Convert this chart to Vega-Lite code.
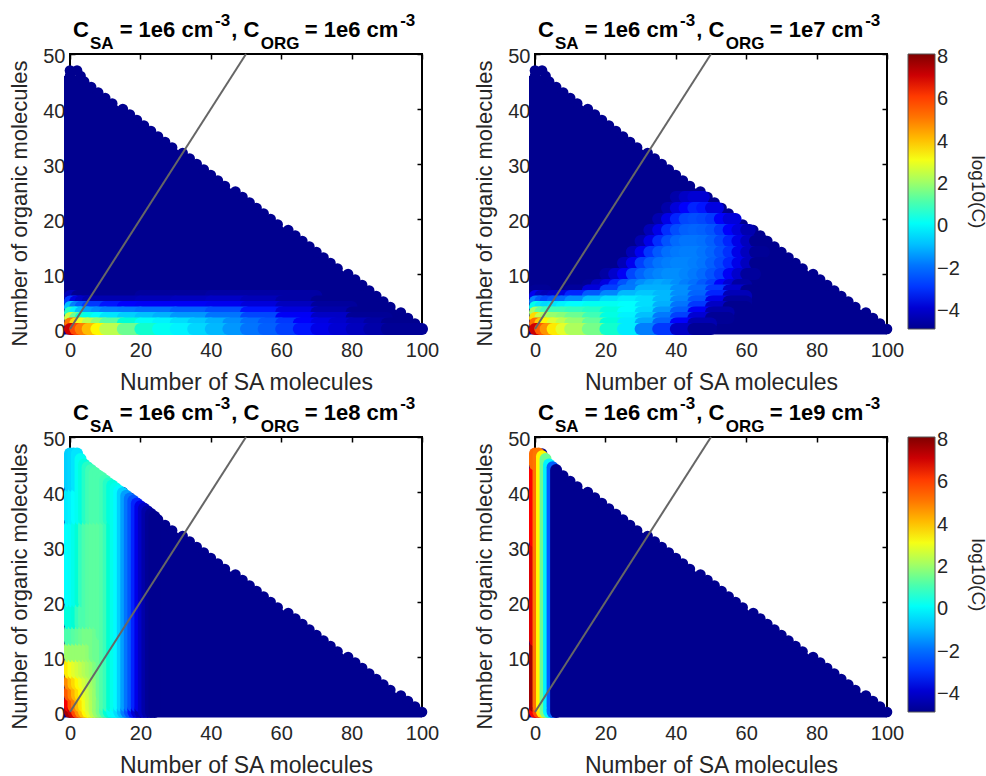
{"$schema":"https://vega.github.io/schema/vega-lite/v6.json","padding":{"left":7,"top":10,"right":0,"bottom":0},"background":"white","bounds":"flush","columns":2,"spacing":{"row":108,"column":113},"data":{"values":[{}]},"resolve":{"scale":{"color":"independent"}},
"config":{"font":"Liberation Sans","view":{"stroke":"#000","strokeWidth":2,"continuousWidth":352,"continuousHeight":275},"axis":{"domain":false,"grid":false,"labelFlush":false,"tickColor":"#000","tickSize":-5,"tickWidth":1.5,"labelFontSize":20,"labelColor":"#262626","titleFontSize":23,"titleColor":"#262626","titleFontWeight":"normal","labelAngle":0},"text":{"align":"left","baseline":"alphabetic","fontWeight":"bold","color":"#000"}},
"datasets":{
"diag":[{"x":0,"y":0},{"x":50,"y":50}],
"base":[{"x":-1.7,"y":46},{"x":2,"y":46},{"x":100,"y":0}],
"edge":[{"x":100,"y":0},{"x":98,"y":1},{"x":96,"y":2},{"x":94,"y":3},{"x":91,"y":4},{"x":89,"y":5},{"x":87,"y":6},{"x":85,"y":7},{"x":83,"y":8},{"x":81,"y":9},{"x":79,"y":10},{"x":76,"y":11},{"x":74,"y":12},{"x":72,"y":13},{"x":70,"y":14},{"x":68,"y":15},{"x":66,"y":16},{"x":64,"y":17},{"x":62,"y":18},{"x":59,"y":19},{"x":57,"y":20},{"x":55,"y":21},{"x":53,"y":22},{"x":51,"y":23},{"x":49,"y":24},{"x":47,"y":25},{"x":44,"y":26},{"x":42,"y":27},{"x":40,"y":28},{"x":38,"y":29},{"x":36,"y":30},{"x":34,"y":31},{"x":32,"y":32},{"x":29,"y":33},{"x":27,"y":34},{"x":25,"y":35},{"x":23,"y":36},{"x":21,"y":37},{"x":19,"y":38},{"x":17,"y":39},{"x":15,"y":40},{"x":12,"y":41},{"x":10,"y":42},{"x":8,"y":43},{"x":6,"y":44},{"x":4,"y":45},{"x":3,"y":46},{"x":0,"y":46},{"x":2,"y":47},{"x":0,"y":47}],
"p1":[
{"x":0,"x2":2,"y":6,"c":-4.4},{"x":2,"x2":20,"y":6,"c":-4.95},{"x":20,"x2":40,"y":6,"c":-4.8},{"x":40,"x2":70,"y":6,"c":-4.7},
{"x":0,"x2":1.5,"y":5,"c":-3},{"x":1.5,"x2":3,"y":5,"c":-3.8},{"x":3,"x2":5,"y":5,"c":-4.2},{"x":5,"x2":20,"y":5,"c":-4.5},{"x":20,"x2":30,"y":5,"c":-4.4},{"x":30,"x2":40,"y":5,"c":-4.3},{"x":40,"x2":50,"y":5,"c":-4.2},{"x":50,"x2":60,"y":5,"c":-4.4},{"x":60,"x2":70,"y":5,"c":-4.7},{"x":70,"x2":80,"y":5,"c":-5},
{"x":0,"x2":1.5,"y":4,"c":-1},{"x":1.5,"x2":3,"y":4,"c":-1.8},{"x":3,"x2":5,"y":4,"c":-2.5},{"x":5,"x2":10,"y":4,"c":-3},{"x":10,"x2":15,"y":4,"c":-3.3},{"x":15,"x2":20,"y":4,"c":-3.4},{"x":20,"x2":30,"y":4,"c":-3.5},{"x":30,"x2":40,"y":4,"c":-3.5},{"x":40,"x2":50,"y":4,"c":-3.6},{"x":50,"x2":60,"y":4,"c":-3.9},{"x":60,"x2":70,"y":4,"c":-4.3},{"x":70,"x2":80,"y":4,"c":-4.8},
{"x":0,"x2":1.5,"y":3,"c":0.7},{"x":1.5,"x2":3,"y":3,"c":-0.3},{"x":3,"x2":5,"y":3,"c":-1},{"x":5,"x2":7.5,"y":3,"c":-1.4},{"x":7.5,"x2":10,"y":3,"c":-1.6},{"x":10,"x2":15,"y":3,"c":-1.8},{"x":15,"x2":20,"y":3,"c":-1.9},{"x":20,"x2":30,"y":3,"c":-2.1},{"x":30,"x2":40,"y":3,"c":-2.4},{"x":40,"x2":50,"y":3,"c":-2.7},{"x":50,"x2":60,"y":3,"c":-3.3},{"x":60,"x2":70,"y":3,"c":-3.9},{"x":70,"x2":80,"y":3,"c":-4.6},{"x":80,"x2":88,"y":3,"c":-5},
{"x":0,"x2":1.5,"y":2,"c":2.5},{"x":1.5,"x2":3,"y":2,"c":1.3},{"x":3,"x2":5,"y":2,"c":0.6},{"x":5,"x2":7.5,"y":2,"c":0.2},{"x":7.5,"x2":10,"y":2,"c":-0.1},{"x":10,"x2":15,"y":2,"c":-0.5},{"x":15,"x2":20,"y":2,"c":-0.8},{"x":20,"x2":25,"y":2,"c":-1},{"x":25,"x2":30,"y":2,"c":-1.2},{"x":30,"x2":40,"y":2,"c":-1.5},{"x":40,"x2":50,"y":2,"c":-2},{"x":50,"x2":60,"y":2,"c":-2.8},{"x":60,"x2":70,"y":2,"c":-3.5},{"x":70,"x2":80,"y":2,"c":-4.2},{"x":80,"x2":90,"y":2,"c":-4.9},
{"x":0,"x2":1.5,"y":1,"c":5},{"x":1.5,"x2":3,"y":1,"c":3.6},{"x":3,"x2":5,"y":1,"c":2.9},{"x":5,"x2":7.5,"y":1,"c":2.3},{"x":7.5,"x2":10,"y":1,"c":1.7},{"x":10,"x2":15,"y":1,"c":1.1},{"x":15,"x2":20,"y":1,"c":0.5},{"x":20,"x2":25,"y":1,"c":0},{"x":25,"x2":30,"y":1,"c":-0.3},{"x":30,"x2":35,"y":1,"c":-0.6},{"x":35,"x2":40,"y":1,"c":-0.9},{"x":40,"x2":45,"y":1,"c":-1.2},{"x":45,"x2":50,"y":1,"c":-1.6},{"x":50,"x2":55,"y":1,"c":-2.1},{"x":55,"x2":60,"y":1,"c":-2.5},{"x":60,"x2":65,"y":1,"c":-3},{"x":65,"x2":70,"y":1,"c":-3.4},{"x":70,"x2":75,"y":1,"c":-3.8},{"x":75,"x2":80,"y":1,"c":-4.1},{"x":80,"x2":85,"y":1,"c":-4.4},{"x":85,"x2":90,"y":1,"c":-4.7},{"x":90,"x2":95,"y":1,"c":-5},
{"x":0,"x2":1.5,"y":0,"c":7},{"x":1.5,"x2":3,"y":0,"c":5.8},{"x":3,"x2":5,"y":0,"c":4.8},{"x":5,"x2":7.5,"y":0,"c":4},{"x":7.5,"x2":10,"y":0,"c":3.2},{"x":10,"x2":15,"y":0,"c":2.3},{"x":15,"x2":20,"y":0,"c":1.3},{"x":20,"x2":25,"y":0,"c":0.6},{"x":25,"x2":30,"y":0,"c":0.1},{"x":30,"x2":35,"y":0,"c":-0.3},{"x":35,"x2":40,"y":0,"c":-0.7},{"x":40,"x2":45,"y":0,"c":-1.1},{"x":45,"x2":50,"y":0,"c":-1.5},{"x":50,"x2":55,"y":0,"c":-2},{"x":55,"x2":60,"y":0,"c":-2.4},{"x":60,"x2":65,"y":0,"c":-2.9},{"x":65,"x2":70,"y":0,"c":-3.3},{"x":70,"x2":75,"y":0,"c":-3.7},{"x":75,"x2":80,"y":0,"c":-4},{"x":80,"x2":85,"y":0,"c":-4.3},{"x":85,"x2":90,"y":0,"c":-4.6},{"x":90,"x2":100,"y":0,"c":-4.9}],
"p2":[
{"x":40,"x2":42.5,"y":24,"c":-4.6},{"x":42.5,"x2":45,"y":24,"c":-4.2},{"x":45,"x2":48,"y":24,"c":-4},
{"x":37.5,"x2":40,"y":22,"c":-4.6},{"x":40,"x2":42.5,"y":22,"c":-3.9},{"x":42.5,"x2":45,"y":22,"c":-3.4},{"x":45,"x2":47.5,"y":22,"c":-3.2},{"x":47.5,"x2":50,"y":22,"c":-3.3},{"x":50,"x2":52,"y":22,"c":-3.8},
{"x":35,"x2":37.5,"y":20,"c":-4.5},{"x":37.5,"x2":40,"y":20,"c":-3.7},{"x":40,"x2":42.5,"y":20,"c":-3.2},{"x":42.5,"x2":45,"y":20,"c":-2.8},{"x":45,"x2":47.5,"y":20,"c":-2.7},{"x":47.5,"x2":50,"y":20,"c":-2.8},{"x":50,"x2":52.5,"y":20,"c":-3},{"x":52.5,"x2":55,"y":20,"c":-3.4},{"x":55,"x2":57,"y":20,"c":-3.9},
{"x":32.5,"x2":35,"y":18,"c":-4.4},{"x":35,"x2":37.5,"y":18,"c":-3.7},{"x":37.5,"x2":40,"y":18,"c":-3.1},{"x":40,"x2":42.5,"y":18,"c":-2.7},{"x":42.5,"x2":45,"y":18,"c":-2.4},{"x":45,"x2":47.5,"y":18,"c":-2.3},{"x":47.5,"x2":50,"y":18,"c":-2.4},{"x":50,"x2":52.5,"y":18,"c":-2.6},{"x":52.5,"x2":55,"y":18,"c":-3},{"x":55,"x2":57.5,"y":18,"c":-3.4},{"x":57.5,"x2":60,"y":18,"c":-3.9},{"x":60,"x2":61,"y":18,"c":-4.5},
{"x":30,"x2":32.5,"y":16,"c":-4.5},{"x":32.5,"x2":35,"y":16,"c":-3.7},{"x":35,"x2":37.5,"y":16,"c":-3.1},{"x":37.5,"x2":40,"y":16,"c":-2.6},{"x":40,"x2":42.5,"y":16,"c":-2.2},{"x":42.5,"x2":45,"y":16,"c":-2},{"x":45,"x2":47.5,"y":16,"c":-2},{"x":47.5,"x2":50,"y":16,"c":-2.1},{"x":50,"x2":52.5,"y":16,"c":-2.4},{"x":52.5,"x2":55,"y":16,"c":-2.8},{"x":55,"x2":57.5,"y":16,"c":-3.2},{"x":57.5,"x2":60,"y":16,"c":-3.7},{"x":60,"x2":62.5,"y":16,"c":-4.3},{"x":62.5,"x2":65,"y":16,"c":-5},
{"x":27.5,"x2":30,"y":14,"c":-4.4},{"x":30,"x2":32.5,"y":14,"c":-3.6},{"x":32.5,"x2":35,"y":14,"c":-3},{"x":35,"x2":37.5,"y":14,"c":-2.5},{"x":37.5,"x2":40,"y":14,"c":-2.1},{"x":40,"x2":42.5,"y":14,"c":-1.9},{"x":42.5,"x2":45,"y":14,"c":-1.8},{"x":45,"x2":47.5,"y":14,"c":-1.8},{"x":47.5,"x2":50,"y":14,"c":-2},{"x":50,"x2":52.5,"y":14,"c":-2.3},{"x":52.5,"x2":55,"y":14,"c":-2.7},{"x":55,"x2":57.5,"y":14,"c":-3.1},{"x":57.5,"x2":60,"y":14,"c":-3.7},{"x":60,"x2":62.5,"y":14,"c":-4.3},{"x":62.5,"x2":65,"y":14,"c":-4.9},
{"x":25,"x2":27.5,"y":12,"c":-4.4},{"x":27.5,"x2":30,"y":12,"c":-3.6},{"x":30,"x2":32.5,"y":12,"c":-2.9},{"x":32.5,"x2":35,"y":12,"c":-2.4},{"x":35,"x2":37.5,"y":12,"c":-2},{"x":37.5,"x2":40,"y":12,"c":-1.8},{"x":40,"x2":42.5,"y":12,"c":-1.7},{"x":42.5,"x2":45,"y":12,"c":-1.7},{"x":45,"x2":47.5,"y":12,"c":-1.8},{"x":47.5,"x2":50,"y":12,"c":-2},{"x":50,"x2":52.5,"y":12,"c":-2.4},{"x":52.5,"x2":55,"y":12,"c":-2.8},{"x":55,"x2":57.5,"y":12,"c":-3.2},{"x":57.5,"x2":60,"y":12,"c":-3.7},{"x":60,"x2":62.5,"y":12,"c":-4.3},{"x":62.5,"x2":65,"y":12,"c":-5},
{"x":20,"x2":22.5,"y":10,"c":-4.7},{"x":22.5,"x2":25,"y":10,"c":-4.1},{"x":25,"x2":27.5,"y":10,"c":-3.5},{"x":27.5,"x2":30,"y":10,"c":-2.8},{"x":30,"x2":32.5,"y":10,"c":-2.3},{"x":32.5,"x2":35,"y":10,"c":-1.9},{"x":35,"x2":37.5,"y":10,"c":-1.7},{"x":37.5,"x2":40,"y":10,"c":-1.6},{"x":40,"x2":42.5,"y":10,"c":-1.6},{"x":42.5,"x2":45,"y":10,"c":-1.7},{"x":45,"x2":47.5,"y":10,"c":-1.9},{"x":47.5,"x2":50,"y":10,"c":-2.2},{"x":50,"x2":52.5,"y":10,"c":-2.6},{"x":52.5,"x2":55,"y":10,"c":-3},{"x":55,"x2":57.5,"y":10,"c":-3.5},{"x":57.5,"x2":60,"y":10,"c":-4.1},{"x":60,"x2":62.5,"y":10,"c":-4.8},
{"x":15,"x2":17.5,"y":8,"c":-4.9},{"x":17.5,"x2":20,"y":8,"c":-4.3},{"x":20,"x2":22.5,"y":8,"c":-3.8},{"x":22.5,"x2":25,"y":8,"c":-3.2},{"x":25,"x2":27.5,"y":8,"c":-2.6},{"x":27.5,"x2":30,"y":8,"c":-2},{"x":30,"x2":32.5,"y":8,"c":-1.6},{"x":32.5,"x2":35,"y":8,"c":-1.4},{"x":35,"x2":37.5,"y":8,"c":-1.3},{"x":37.5,"x2":40,"y":8,"c":-1.4},{"x":40,"x2":42.5,"y":8,"c":-1.6},{"x":42.5,"x2":45,"y":8,"c":-1.8},{"x":45,"x2":47.5,"y":8,"c":-2.1},{"x":47.5,"x2":50,"y":8,"c":-2.5},{"x":50,"x2":52.5,"y":8,"c":-2.9},{"x":52.5,"x2":55,"y":8,"c":-3.4},{"x":55,"x2":57.5,"y":8,"c":-4},{"x":57.5,"x2":60,"y":8,"c":-4.7},
{"x":0,"x2":3,"y":7,"c":-4.9},{"x":10,"x2":15,"y":7,"c":-4.8},{"x":15,"x2":20,"y":7,"c":-3.9},{"x":20,"x2":25,"y":7,"c":-2.9},{"x":25,"x2":30,"y":7,"c":-1.9},{"x":30,"x2":35,"y":7,"c":-1.2},{"x":35,"x2":40,"y":7,"c":-1.2},{"x":40,"x2":45,"y":7,"c":-1.6},{"x":45,"x2":50,"y":7,"c":-2.2},{"x":50,"x2":55,"y":7,"c":-3},{"x":55,"x2":60,"y":7,"c":-4.1},{"x":60,"x2":62,"y":7,"c":-5},
{"x":0,"x2":1.5,"y":6,"c":-3.6},{"x":1.5,"x2":3,"y":6,"c":-4.2},{"x":3,"x2":5,"y":6,"c":-4.4},{"x":5,"x2":7.5,"y":6,"c":-4.2},{"x":7.5,"x2":10,"y":6,"c":-3.8},{"x":10,"x2":15,"y":6,"c":-3.2},{"x":15,"x2":20,"y":6,"c":-2.5},{"x":20,"x2":25,"y":6,"c":-1.7},{"x":25,"x2":30,"y":6,"c":-1.1},{"x":30,"x2":35,"y":6,"c":-0.9},{"x":35,"x2":40,"y":6,"c":-1.1},{"x":40,"x2":45,"y":6,"c":-1.6},{"x":45,"x2":50,"y":6,"c":-2.3},{"x":50,"x2":55,"y":6,"c":-3.2},{"x":55,"x2":60,"y":6,"c":-4.4},
{"x":0,"x2":1.5,"y":5,"c":-1.8},{"x":1.5,"x2":3,"y":5,"c":-2.5},{"x":3,"x2":5,"y":5,"c":-2.8},{"x":5,"x2":7.5,"y":5,"c":-2.5},{"x":7.5,"x2":10,"y":5,"c":-2.2},{"x":10,"x2":15,"y":5,"c":-1.6},{"x":15,"x2":20,"y":5,"c":-1},{"x":20,"x2":25,"y":5,"c":-0.6},{"x":25,"x2":30,"y":5,"c":-0.4},{"x":30,"x2":35,"y":5,"c":-0.6},{"x":35,"x2":40,"y":5,"c":-1.1},{"x":40,"x2":45,"y":5,"c":-1.7},{"x":45,"x2":50,"y":5,"c":-2.6},{"x":50,"x2":55,"y":5,"c":-3.7},{"x":55,"x2":60,"y":5,"c":-4.8},
{"x":0,"x2":1.5,"y":4,"c":0.2},{"x":1.5,"x2":3,"y":4,"c":-0.5},{"x":3,"x2":5,"y":4,"c":-0.7},{"x":5,"x2":7.5,"y":4,"c":-0.5},{"x":7.5,"x2":10,"y":4,"c":-0.3},{"x":10,"x2":15,"y":4,"c":-0.1},{"x":15,"x2":20,"y":4,"c":0.1},{"x":20,"x2":25,"y":4,"c":0.1},{"x":25,"x2":30,"y":4,"c":-0.1},{"x":30,"x2":35,"y":4,"c":-0.6},{"x":35,"x2":40,"y":4,"c":-1.2},{"x":40,"x2":45,"y":4,"c":-2},{"x":45,"x2":50,"y":4,"c":-3},{"x":50,"x2":55,"y":4,"c":-4.2},{"x":55,"x2":60,"y":4,"c":-5},
{"x":0,"x2":1.5,"y":3,"c":2},{"x":1.5,"x2":3,"y":3,"c":1.2},{"x":3,"x2":5,"y":3,"c":0.9},{"x":5,"x2":7.5,"y":3,"c":0.9},{"x":7.5,"x2":10,"y":3,"c":0.9},{"x":10,"x2":15,"y":3,"c":0.8},{"x":15,"x2":20,"y":3,"c":0.7},{"x":20,"x2":25,"y":3,"c":0.4},{"x":25,"x2":30,"y":3,"c":-0.1},{"x":30,"x2":35,"y":3,"c":-0.7},{"x":35,"x2":40,"y":3,"c":-1.5},{"x":40,"x2":45,"y":3,"c":-2.4},{"x":45,"x2":50,"y":3,"c":-3.5},{"x":50,"x2":55,"y":3,"c":-4.6},
{"x":0,"x2":1.5,"y":2,"c":3.6},{"x":1.5,"x2":3,"y":2,"c":2.4},{"x":3,"x2":5,"y":2,"c":2},{"x":5,"x2":7.5,"y":2,"c":1.8},{"x":7.5,"x2":10,"y":2,"c":1.6},{"x":10,"x2":15,"y":2,"c":1.3},{"x":15,"x2":20,"y":2,"c":0.9},{"x":20,"x2":25,"y":2,"c":0.3},{"x":25,"x2":30,"y":2,"c":-0.3},{"x":30,"x2":35,"y":2,"c":-1},{"x":35,"x2":40,"y":2,"c":-1.9},{"x":40,"x2":45,"y":2,"c":-2.9},{"x":45,"x2":50,"y":2,"c":-4},{"x":50,"x2":55,"y":2,"c":-4.9},
{"x":0,"x2":1.5,"y":1,"c":5.2},{"x":1.5,"x2":3,"y":1,"c":3.8},{"x":3,"x2":5,"y":1,"c":3.2},{"x":5,"x2":7.5,"y":1,"c":2.7},{"x":7.5,"x2":10,"y":1,"c":2.3},{"x":10,"x2":15,"y":1,"c":1.8},{"x":15,"x2":20,"y":1,"c":1.2},{"x":20,"x2":25,"y":1,"c":0.5},{"x":25,"x2":30,"y":1,"c":-0.4},{"x":30,"x2":35,"y":1,"c":-1.3},{"x":35,"x2":40,"y":1,"c":-2.3},{"x":40,"x2":45,"y":1,"c":-3.4},{"x":45,"x2":50,"y":1,"c":-4.5},
{"x":0,"x2":1.5,"y":0,"c":7},{"x":1.5,"x2":3,"y":0,"c":5.5},{"x":3,"x2":5,"y":0,"c":4.5},{"x":5,"x2":7.5,"y":0,"c":3.4},{"x":7.5,"x2":10,"y":0,"c":2.8},{"x":10,"x2":15,"y":0,"c":2.1},{"x":15,"x2":20,"y":0,"c":1.4},{"x":20,"x2":25,"y":0,"c":0.6},{"x":25,"x2":30,"y":0,"c":-0.4},{"x":30,"x2":35,"y":0,"c":-1.8},{"x":35,"x2":40,"y":0,"c":-3},{"x":40,"x2":45,"y":0,"c":-4.2},{"x":45,"x2":50,"y":0,"c":-4.9}],
"p3":[
{"x":0,"y":0,"y2":0.5,"c":7.5},{"x":0,"y":1,"y2":2,"c":6.5},{"x":0,"y":3,"y2":4,"c":5.5},{"x":0,"y":5,"y2":6,"c":4.6},{"x":0,"y":7,"y2":9,"c":3.4},{"x":0,"y":10,"y2":12,"c":1.9},{"x":0,"y":13,"y2":15,"c":1},{"x":0,"y":16,"y2":19,"c":0.4},{"x":0,"y":20,"y2":34,"c":-0.1},{"x":0,"y":35,"y2":40,"c":-0.4},{"x":0,"y":41,"y2":47,"c":-0.8},
{"x":1,"y":0,"y2":0.5,"c":7},{"x":1,"y":1,"y2":2,"c":5.6},{"x":1,"y":3,"y2":4,"c":4.7},{"x":1,"y":5,"y2":6,"c":4},{"x":1,"y":7,"y2":9,"c":3},{"x":1,"y":10,"y2":12,"c":1.8},{"x":1,"y":13,"y2":15,"c":1},{"x":1,"y":16,"y2":19,"c":0.4},{"x":1,"y":20,"y2":34,"c":0},{"x":1,"y":35,"y2":40,"c":-0.3},{"x":1,"y":41,"y2":47,"c":-0.7},
{"x":2,"y":0,"y2":0.5,"c":5.8},{"x":2,"y":1,"y2":2,"c":4.8},{"x":2,"y":3,"y2":4,"c":4.1},{"x":2,"y":5,"y2":6,"c":3.6},{"x":2,"y":7,"y2":9,"c":2.8},{"x":2,"y":10,"y2":12,"c":1.8},{"x":2,"y":13,"y2":15,"c":1.1},{"x":2,"y":16,"y2":19,"c":0.5},{"x":2,"y":20,"y2":34,"c":0.2},{"x":2,"y":35,"y2":40,"c":-0.1},{"x":2,"y":41,"y2":47,"c":-0.5},
{"x":3,"y":0,"y2":0.5,"c":4.6},{"x":3,"y":1,"y2":2,"c":4},{"x":3,"y":3,"y2":4,"c":3.6},{"x":3,"y":5,"y2":6,"c":3.2},{"x":3,"y":7,"y2":9,"c":2.6},{"x":3,"y":10,"y2":12,"c":1.8},{"x":3,"y":13,"y2":15,"c":1.2},{"x":3,"y":16,"y2":19,"c":0.8},{"x":3,"y":20,"y2":34,"c":0.5},{"x":3,"y":35,"y2":46,"c":0.1},
{"x":4,"y":0,"y2":0.5,"c":3.9},{"x":4,"y":1,"y2":2,"c":3.5},{"x":4,"y":3,"y2":4,"c":3.2},{"x":4,"y":5,"y2":6,"c":2.9},{"x":4,"y":7,"y2":9,"c":2.4},{"x":4,"y":10,"y2":12,"c":1.8},{"x":4,"y":13,"y2":15,"c":1.3},{"x":4,"y":16,"y2":19,"c":1},{"x":4,"y":20,"y2":34,"c":0.8},{"x":4,"y":35,"y2":45,"c":0.4},
{"x":5,"y":0,"y2":0.5,"c":3.2},{"x":5,"y":1,"y2":2,"c":3},{"x":5,"y":3,"y2":4,"c":2.8},{"x":5,"y":5,"y2":6,"c":2.6},{"x":5,"y":7,"y2":9,"c":2.2},{"x":5,"y":10,"y2":12,"c":1.8},{"x":5,"y":13,"y2":15,"c":1.4},{"x":5,"y":16,"y2":34,"c":1},{"x":5,"y":35,"y2":44.5,"c":0.7},
{"x":6,"y":0,"y2":0.5,"c":2.8},{"x":6,"y":1,"y2":2,"c":2.6},{"x":6,"y":3,"y2":4,"c":2.5},{"x":6,"y":5,"y2":6,"c":2.3},{"x":6,"y":7,"y2":9,"c":2},{"x":6,"y":10,"y2":12,"c":1.7},{"x":6,"y":13,"y2":15,"c":1.4},{"x":6,"y":16,"y2":34,"c":1.1},{"x":6,"y":35,"y2":44,"c":0.9},
{"x":7,"y":0,"y2":0.5,"c":2.3},{"x":7,"y":1,"y2":2,"c":2.2},{"x":7,"y":3,"y2":4,"c":2.1},{"x":7,"y":5,"y2":6,"c":2},{"x":7,"y":7,"y2":9,"c":1.8},{"x":7,"y":10,"y2":15,"c":1.4},{"x":7,"y":16,"y2":34,"c":1.15},{"x":7,"y":35,"y2":43.5,"c":1},
{"x":8,"y":0,"y2":0.5,"c":1.8},{"x":8,"y":1,"y2":4,"c":1.8},{"x":8,"y":5,"y2":6,"c":1.7},{"x":8,"y":7,"y2":9,"c":1.5},{"x":8,"y":10,"y2":15,"c":1.3},{"x":8,"y":16,"y2":34,"c":1.15},{"x":8,"y":35,"y2":43,"c":1},
{"x":9,"y":0,"y2":0.5,"c":1.4},{"x":9,"y":1,"y2":2,"c":1.4},{"x":9,"y":3,"y2":13,"c":1.3},{"x":9,"y":14,"y2":34,"c":1.15},{"x":9,"y":35,"y2":42.6,"c":1},
{"x":10,"y":0,"y2":0.5,"c":0.9},{"x":10,"y":1,"y2":34,"c":1.05},{"x":10,"y":35,"y2":42.1,"c":0.9},
{"x":11,"y":0,"y2":0.5,"c":0.5},{"x":11,"y":1,"y2":34,"c":0.85},{"x":11,"y":35,"y2":41.6,"c":0.7},
{"x":12,"y":0,"y2":0.5,"c":0.1},{"x":12,"y":1,"y2":34,"c":0.55},{"x":12,"y":35,"y2":41.2,"c":0.4},
{"x":13,"y":0,"y2":0.5,"c":-0.2},{"x":13,"y":1,"y2":40.7,"c":0.2},
{"x":14,"y":0,"y2":0.5,"c":-0.6},{"x":14,"y":1,"y2":40.2,"c":-0.2},
{"x":15,"y":0,"y2":0.5,"c":-1.1},{"x":15,"y":1,"y2":39.8,"c":-0.8},
{"x":16,"y":0,"y2":0.5,"c":-1.8},{"x":16,"y":1,"y2":39.3,"c":-1.4},
{"x":17,"y":0,"y2":0.5,"c":-2.6},{"x":17,"y":1,"y2":38.8,"c":-2},
{"x":18,"y":0,"y2":0.5,"c":-3.3},{"x":18,"y":1,"y2":38.4,"c":-2.6},
{"x":19,"y":0,"y2":0.5,"c":-4},{"x":19,"y":1,"y2":37.9,"c":-3.2},
{"x":20,"y":0,"y2":0.5,"c":-4.5},{"x":20,"y":1,"y2":37.4,"c":-3.7},
{"x":21,"y":0,"y2":37,"c":-4.2},{"x":22,"y":0,"y2":36.5,"c":-4.6},{"x":23,"y":0,"y2":36,"c":-4.9},{"x":24,"y":0,"y2":35.5,"c":-5}],
"p4":[
{"x":0,"y":0,"y2":0.5,"c":6.5},{"x":0,"y":1,"y2":12,"c":7.6},{"x":0,"y":13,"y2":30,"c":6.8},{"x":0,"y":31,"y2":44,"c":6.4},{"x":0,"y":45,"y2":47,"c":5.2},
{"x":1,"y":0,"y2":0.5,"c":5.8},{"x":1,"y":1,"y2":47,"c":5},
{"x":2,"y":0,"y2":0.5,"c":3.4},{"x":2,"y":1,"y2":46.5,"c":3.2},
{"x":3,"y":0,"y2":0.5,"c":1.5},{"x":3,"y":1,"y2":46,"c":1.3},
{"x":4,"y":0,"y2":0.5,"c":-0.2},{"x":4,"y":1,"y2":45,"c":-0.3},
{"x":5,"y":0,"y2":0.5,"c":-2.2},{"x":5,"y":1,"y2":44.5,"c":-2.4},
{"x":6,"y":0,"y2":44,"c":-5}]
},
"concat":[
{"layer":[{"layer":[
{"data":{"name":"base"},"mark":{"type":"area","color":"#00008f"},"encoding":{"x":{"field":"x","type":"quantitative","scale":{"domain":[0,100],"nice":false},"axis":{"values":[0,20,40,60,80,100],"labelPadding":16,"title":"Number of SA molecules","titlePadding":11}},"y":{"field":"y","type":"quantitative","scale":{"domain":[0,50],"nice":false},"axis":{"values":[0,10,20,30,40,50],"labelPadding":10,"labelOffset":2,"title":"Number of organic molecules","titlePadding":11,"titleFontSize":22,"titleY":149}},"y2":{"datum":-1}}},
{"data":{"name":"edge"},"mark":{"type":"circle","size":113,"color":"#00008f","opacity":1},"encoding":{"x":{"field":"x","type":"quantitative"},"y":{"field":"y","type":"quantitative"}}},
{"data":{"name":"p1"},"mark":{"type":"rule","strokeWidth":12,"strokeCap":"round"},"encoding":{"x":{"field":"x","type":"quantitative"},"x2":{"field":"x2"},"y":{"field":"y","type":"quantitative"},"color":{"field":"c","type":"quantitative","legend":null,"scale":{"domain":[-5,-3.375,-1.75,-0.125,1.5,3.125,4.75,6.375,8],"range":["#00008f","#0000ff","#0080ff","#00ffff","#80ff80","#ffff00","#ff8000","#ff0000","#800000"]}}}},
{"data":{"name":"diag"},"mark":{"type":"line","color":"#666666","strokeWidth":2},"encoding":{"x":{"field":"x","type":"quantitative"},"y":{"field":"y","type":"quantitative"}}},
{"mark":{"type":"text","text":"C","fontSize":22},"encoding":{"x":{"datum":0.85},"y":{"datum":53.1}}},
{"mark":{"type":"text","text":"SA","fontSize":17},"encoding":{"x":{"datum":5.65},"y":{"datum":50.9}}},
{"mark":{"type":"text","text":"= 1e6 cm","fontSize":22},"encoding":{"x":{"datum":14.1},"y":{"datum":53.1}}},
{"mark":{"type":"text","text":"-3","fontSize":17},"encoding":{"x":{"datum":41.2},"y":{"datum":55.1}}},
{"mark":{"type":"text","text":", C","fontSize":22},"encoding":{"x":{"datum":45.8},"y":{"datum":53.1}}},
{"mark":{"type":"text","text":"ORG","fontSize":17},"encoding":{"x":{"datum":54.2},"y":{"datum":50.9}}},
{"mark":{"type":"text","text":"= 1e6 cm","fontSize":22},"encoding":{"x":{"datum":66.7},"y":{"datum":53.1}}},
{"mark":{"type":"text","text":"-3","fontSize":17},"encoding":{"x":{"datum":93.8},"y":{"datum":55.1}}}
]},
{"data":{"name":"diag"},"mark":{"type":"line","opacity":0},"encoding":{"x":{"field":"x","type":"quantitative","scale":{"domain":[0,100],"nice":false},"axis":{"orient":"top","values":[0,20,40,60,80,100],"labels":false,"title":null}},"y":{"field":"y","type":"quantitative","scale":{"domain":[0,50],"nice":false},"axis":{"orient":"right","values":[0,10,20,30,40,50],"labels":false,"title":null}}}}
],"resolve":{"axis":{"x":"independent","y":"independent"}}},
{"layer":[{"layer":[
{"data":{"name":"base"},"mark":{"type":"area","color":"#00008f"},"encoding":{"x":{"field":"x","type":"quantitative","scale":{"domain":[0,100],"nice":false},"axis":{"values":[0,20,40,60,80,100],"labelPadding":16,"title":"Number of SA molecules","titlePadding":11}},"y":{"field":"y","type":"quantitative","scale":{"domain":[0,50],"nice":false},"axis":{"values":[0,10,20,30,40,50],"labelPadding":10,"labelOffset":2,"title":"Number of organic molecules","titlePadding":11,"titleFontSize":22,"titleY":149}},"y2":{"datum":-1}}},
{"data":{"name":"edge"},"mark":{"type":"circle","size":113,"color":"#00008f","opacity":1},"encoding":{"x":{"field":"x","type":"quantitative"},"y":{"field":"y","type":"quantitative"}}},
{"data":{"name":"p2"},"mark":{"type":"rule","strokeWidth":12,"strokeCap":"round"},"encoding":{"x":{"field":"x","type":"quantitative"},"x2":{"field":"x2"},"y":{"field":"y","type":"quantitative"},"color":{"field":"c","type":"quantitative","scale":{"domain":[-5,-3.375,-1.75,-0.125,1.5,3.125,4.75,6.375,8],"range":["#00008f","#0000ff","#0080ff","#00ffff","#80ff80","#ffff00","#ff8000","#ff0000","#800000"]},"legend":{"orient":"right","offset":20,"direction":"vertical","type":"gradient","gradientLength":275,"gradientThickness":27,"values":[-4,-2,0,2,4,6,8],"title":"log10(C)","titleOrient":"right","titleAngle":270,"titleFontSize":19,"titleFontWeight":"normal","titleColor":"#262626","titlePadding":8,"labelFontSize":20,"labelColor":"#262626","gradientStrokeColor":"#555","gradientStrokeWidth":1,"encode":{"labels":{"update":{"baseline":{"value":"middle"},"dy":{"value":3}}}}}}}},
{"data":{"name":"diag"},"mark":{"type":"line","color":"#666666","strokeWidth":2},"encoding":{"x":{"field":"x","type":"quantitative"},"y":{"field":"y","type":"quantitative"}}},
{"mark":{"type":"text","text":"C","fontSize":22},"encoding":{"x":{"datum":0.85},"y":{"datum":53.1}}},
{"mark":{"type":"text","text":"SA","fontSize":17},"encoding":{"x":{"datum":5.65},"y":{"datum":50.9}}},
{"mark":{"type":"text","text":"= 1e6 cm","fontSize":22},"encoding":{"x":{"datum":14.1},"y":{"datum":53.1}}},
{"mark":{"type":"text","text":"-3","fontSize":17},"encoding":{"x":{"datum":41.2},"y":{"datum":55.1}}},
{"mark":{"type":"text","text":", C","fontSize":22},"encoding":{"x":{"datum":45.8},"y":{"datum":53.1}}},
{"mark":{"type":"text","text":"ORG","fontSize":17},"encoding":{"x":{"datum":54.2},"y":{"datum":50.9}}},
{"mark":{"type":"text","text":"= 1e7 cm","fontSize":22},"encoding":{"x":{"datum":66.7},"y":{"datum":53.1}}},
{"mark":{"type":"text","text":"-3","fontSize":17},"encoding":{"x":{"datum":93.8},"y":{"datum":55.1}}}
]},
{"data":{"name":"diag"},"mark":{"type":"line","opacity":0},"encoding":{"x":{"field":"x","type":"quantitative","scale":{"domain":[0,100],"nice":false},"axis":{"orient":"top","values":[0,20,40,60,80,100],"labels":false,"title":null}},"y":{"field":"y","type":"quantitative","scale":{"domain":[0,50],"nice":false},"axis":{"orient":"right","values":[0,10,20,30,40,50],"labels":false,"title":null}}}}
],"resolve":{"axis":{"x":"independent","y":"independent"}}},
{"layer":[{"layer":[
{"data":{"name":"base"},"mark":{"type":"area","color":"#00008f"},"encoding":{"x":{"field":"x","type":"quantitative","scale":{"domain":[0,100],"nice":false},"axis":{"values":[0,20,40,60,80,100],"labelPadding":16,"title":"Number of SA molecules","titlePadding":11}},"y":{"field":"y","type":"quantitative","scale":{"domain":[0,50],"nice":false},"axis":{"values":[0,10,20,30,40,50],"labelPadding":10,"labelOffset":2,"title":"Number of organic molecules","titlePadding":11,"titleFontSize":22,"titleY":149}},"y2":{"datum":-1}}},
{"data":{"name":"edge"},"mark":{"type":"circle","size":113,"color":"#00008f","opacity":1},"encoding":{"x":{"field":"x","type":"quantitative"},"y":{"field":"y","type":"quantitative"}}},
{"data":{"name":"p3"},"mark":{"type":"rule","strokeWidth":12,"strokeCap":"round"},"encoding":{"x":{"field":"x","type":"quantitative"},"y":{"field":"y","type":"quantitative"},"y2":{"field":"y2"},"color":{"field":"c","type":"quantitative","legend":null,"scale":{"domain":[-5,-3.375,-1.75,-0.125,1.5,3.125,4.75,6.375,8],"range":["#00008f","#0000ff","#0080ff","#00ffff","#80ff80","#ffff00","#ff8000","#ff0000","#800000"]}}}},
{"data":{"name":"diag"},"mark":{"type":"line","color":"#666666","strokeWidth":2},"encoding":{"x":{"field":"x","type":"quantitative"},"y":{"field":"y","type":"quantitative"}}},
{"mark":{"type":"text","text":"C","fontSize":22},"encoding":{"x":{"datum":0.85},"y":{"datum":53.1}}},
{"mark":{"type":"text","text":"SA","fontSize":17},"encoding":{"x":{"datum":5.65},"y":{"datum":50.9}}},
{"mark":{"type":"text","text":"= 1e6 cm","fontSize":22},"encoding":{"x":{"datum":14.1},"y":{"datum":53.1}}},
{"mark":{"type":"text","text":"-3","fontSize":17},"encoding":{"x":{"datum":41.2},"y":{"datum":55.1}}},
{"mark":{"type":"text","text":", C","fontSize":22},"encoding":{"x":{"datum":45.8},"y":{"datum":53.1}}},
{"mark":{"type":"text","text":"ORG","fontSize":17},"encoding":{"x":{"datum":54.2},"y":{"datum":50.9}}},
{"mark":{"type":"text","text":"= 1e8 cm","fontSize":22},"encoding":{"x":{"datum":66.7},"y":{"datum":53.1}}},
{"mark":{"type":"text","text":"-3","fontSize":17},"encoding":{"x":{"datum":93.8},"y":{"datum":55.1}}}
]},
{"data":{"name":"diag"},"mark":{"type":"line","opacity":0},"encoding":{"x":{"field":"x","type":"quantitative","scale":{"domain":[0,100],"nice":false},"axis":{"orient":"top","values":[0,20,40,60,80,100],"labels":false,"title":null}},"y":{"field":"y","type":"quantitative","scale":{"domain":[0,50],"nice":false},"axis":{"orient":"right","values":[0,10,20,30,40,50],"labels":false,"title":null}}}}
],"resolve":{"axis":{"x":"independent","y":"independent"}}},
{"layer":[{"layer":[
{"data":{"name":"base"},"mark":{"type":"area","color":"#00008f"},"encoding":{"x":{"field":"x","type":"quantitative","scale":{"domain":[0,100],"nice":false},"axis":{"values":[0,20,40,60,80,100],"labelPadding":16,"title":"Number of SA molecules","titlePadding":11}},"y":{"field":"y","type":"quantitative","scale":{"domain":[0,50],"nice":false},"axis":{"values":[0,10,20,30,40,50],"labelPadding":10,"labelOffset":2,"title":"Number of organic molecules","titlePadding":11,"titleFontSize":22,"titleY":149}},"y2":{"datum":-1}}},
{"data":{"name":"edge"},"mark":{"type":"circle","size":113,"color":"#00008f","opacity":1},"encoding":{"x":{"field":"x","type":"quantitative"},"y":{"field":"y","type":"quantitative"}}},
{"data":{"name":"p4"},"mark":{"type":"rule","strokeWidth":12,"strokeCap":"round"},"encoding":{"x":{"field":"x","type":"quantitative"},"y":{"field":"y","type":"quantitative"},"y2":{"field":"y2"},"color":{"field":"c","type":"quantitative","scale":{"domain":[-5,-3.375,-1.75,-0.125,1.5,3.125,4.75,6.375,8],"range":["#00008f","#0000ff","#0080ff","#00ffff","#80ff80","#ffff00","#ff8000","#ff0000","#800000"]},"legend":{"orient":"right","offset":20,"direction":"vertical","type":"gradient","gradientLength":275,"gradientThickness":27,"values":[-4,-2,0,2,4,6,8],"title":"log10(C)","titleOrient":"right","titleAngle":270,"titleFontSize":19,"titleFontWeight":"normal","titleColor":"#262626","titlePadding":8,"labelFontSize":20,"labelColor":"#262626","gradientStrokeColor":"#555","gradientStrokeWidth":1,"encode":{"labels":{"update":{"baseline":{"value":"middle"},"dy":{"value":3}}}}}}}},
{"data":{"name":"diag"},"mark":{"type":"line","color":"#666666","strokeWidth":2},"encoding":{"x":{"field":"x","type":"quantitative"},"y":{"field":"y","type":"quantitative"}}},
{"mark":{"type":"text","text":"C","fontSize":22},"encoding":{"x":{"datum":0.85},"y":{"datum":53.1}}},
{"mark":{"type":"text","text":"SA","fontSize":17},"encoding":{"x":{"datum":5.65},"y":{"datum":50.9}}},
{"mark":{"type":"text","text":"= 1e6 cm","fontSize":22},"encoding":{"x":{"datum":14.1},"y":{"datum":53.1}}},
{"mark":{"type":"text","text":"-3","fontSize":17},"encoding":{"x":{"datum":41.2},"y":{"datum":55.1}}},
{"mark":{"type":"text","text":", C","fontSize":22},"encoding":{"x":{"datum":45.8},"y":{"datum":53.1}}},
{"mark":{"type":"text","text":"ORG","fontSize":17},"encoding":{"x":{"datum":54.2},"y":{"datum":50.9}}},
{"mark":{"type":"text","text":"= 1e9 cm","fontSize":22},"encoding":{"x":{"datum":66.7},"y":{"datum":53.1}}},
{"mark":{"type":"text","text":"-3","fontSize":17},"encoding":{"x":{"datum":93.8},"y":{"datum":55.1}}}
]},
{"data":{"name":"diag"},"mark":{"type":"line","opacity":0},"encoding":{"x":{"field":"x","type":"quantitative","scale":{"domain":[0,100],"nice":false},"axis":{"orient":"top","values":[0,20,40,60,80,100],"labels":false,"title":null}},"y":{"field":"y","type":"quantitative","scale":{"domain":[0,50],"nice":false},"axis":{"orient":"right","values":[0,10,20,30,40,50],"labels":false,"title":null}}}}
],"resolve":{"axis":{"x":"independent","y":"independent"}}}
]}
